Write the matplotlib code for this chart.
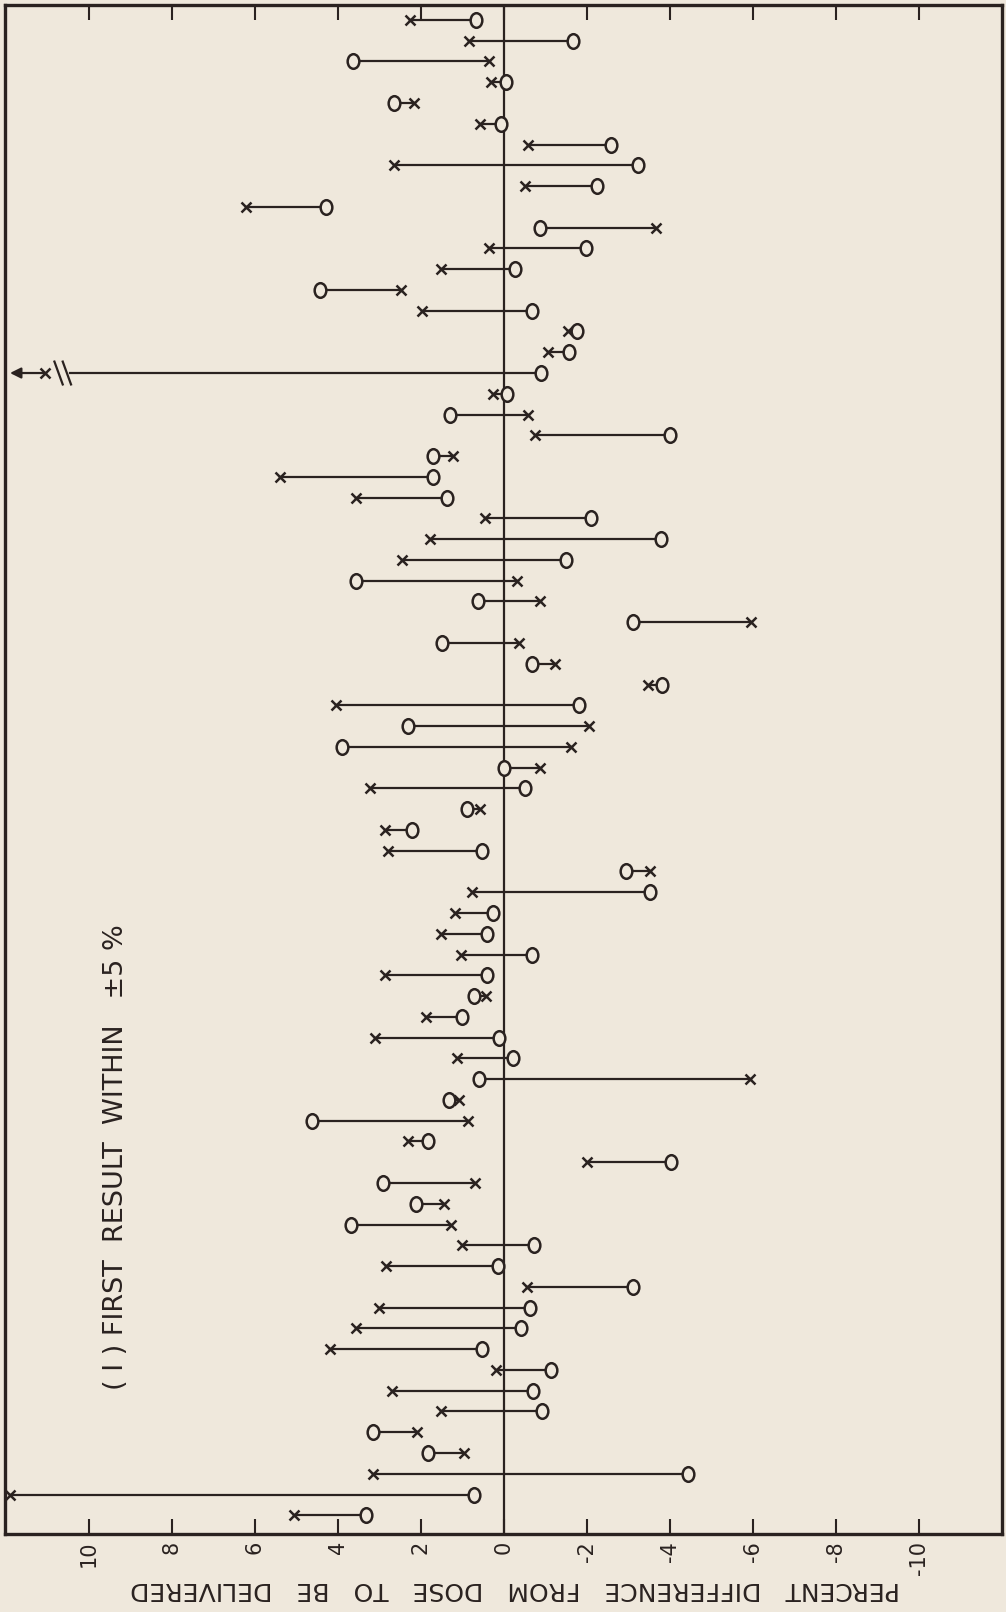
import numpy as np
import matplotlib.pyplot as plt
from matplotlib.path import Path

# percent difference, first result (circle) and second result (cross), top to bottom
first = [0.67, -1.67, 3.63, -0.05, 2.66, 0.07, -2.59, -3.23, -2.24, 4.28,
         -0.87, -1.97, -0.27, 4.43, -0.67, -1.76, -1.57, -0.89, -0.07, 1.29,
         -4.0, 1.72, 1.72, 1.37, -2.09, -3.78, -1.49, 3.56, 0.62, -3.11,
         1.49, -0.67, -3.81, -1.82, 2.31, 3.9, 0.0, -0.5, 0.9, 2.21,
         0.52, -2.94, -3.51, 0.27, 0.4, -0.67, 0.4, 0.72, 1.0, 0.12,
         -0.22, 0.6, 1.32, 4.63, 1.82, -4.03, 2.91, 2.11, 3.68, -0.72,
         0.15, -3.11, -0.62, -0.4, 0.52, -1.14, -0.7, -0.92, 3.16, 1.84,
         -4.43, 0.72, 3.33]
second = [2.26, 0.85, 0.37, 0.3, 2.16, 0.57, -0.57, 2.66, -0.5, 6.22,
          -3.66, 0.37, 1.52, 2.49, 1.98, -1.54, -1.06, 11.06, 0.26, -0.57,
          -0.75, 1.22, 5.4, 3.56, 0.45, 1.77, 2.46, -0.32, -0.87, -5.95,
          -0.37, -1.22, -3.46, 4.05, -2.06, -1.62, -0.87, 3.23, 0.57, 2.86,
          2.79, -3.53, 0.77, 1.17, 1.52, 1.04, 2.86, 0.42, 1.87, 3.11,
          1.14, -5.92, 1.09, 0.87, 2.31, -1.99, 0.7, 1.44, 1.27, 1.0,
          2.84, -0.55, 3.01, 3.56, 4.18, 0.2, 2.69, 1.52, 2.09, 0.97,
          3.16, 11.9, 5.05]
off_scale_row = 17   # second result beyond the scale, shown with a break
break_at = 10.45
xticks = [10, 8, 6, 4, 2, 0, -2, -4, -6, -8, -10]
xtick_labels = ["10", "8", "6", "4", "2", "0", "-2", "-4", "-6", "-8", "-10"]

BG = "#efe8dc"
INK = "#2a2220"

rows = np.arange(len(first))

fig = plt.figure(figsize=(10.06, 16.12), dpi=100, facecolor=BG)
ax = fig.add_axes([0.005, 0.0484, 0.991, 0.9485], facecolor=BG)

uc = Path.unit_circle()
oval = Path(uc.vertices * [0.8, 1.0], uc.codes)

ax.axvline(0, color=INK, lw=1.6, zorder=1)

for i, (a, b) in enumerate(zip(first, second)):
    if i == off_scale_row:
        ax.plot([a, break_at], [i, i], color=INK, lw=1.6, zorder=2)
        for s in (break_at + 0.08, break_at + 0.28):
            ax.plot([s + 0.1, s - 0.1], [i - 0.55, i + 0.55], color=INK, lw=1.6)
        ax.annotate("", xy=(11.9, i), xytext=(b, i),
                    arrowprops=dict(arrowstyle="-|>", color=INK, lw=1.6,
                                    mutation_scale=16, shrinkA=0, shrinkB=0))
    else:
        ax.plot([a, b], [i, i], color=INK, lw=1.6, zorder=2)

ax.plot(second, rows, ls="none", marker="x", ms=7, mew=1.8, color=INK, zorder=3)
ax.plot(first, rows, ls="none", marker=oval, ms=10.5, mew=1.8,
        mec=INK, mfc=BG, zorder=4)

ax.set_xlim(12.02, -12.0)
ax.set_ylim(72.9, -0.72)
ax.set_yticks([])
ax.set_xticks(xticks)
ax.set_xticklabels(xtick_labels, rotation=90, fontsize=15, color=INK)
ax.tick_params(axis="x", direction="in", top=True, length=11, width=1.5,
               color=INK, pad=5)
for sp in ax.spines.values():
    sp.set_linewidth(2.4)
    sp.set_color(INK)

fig.text(0.512, 0.0145, "PERCENT   DIFFERENCE   FROM   DOSE   TO   BE   DELIVERED",
         rotation=180, ha="center", va="center", fontsize=18, color=INK)
fig.text(0.115, 0.282, "( I ) FIRST  RESULT  WITHIN   ±5 %",
         rotation=90, ha="center", va="center", fontsize=19.5, color=INK)

fig.savefig("out.png", dpi=100, facecolor=BG)
